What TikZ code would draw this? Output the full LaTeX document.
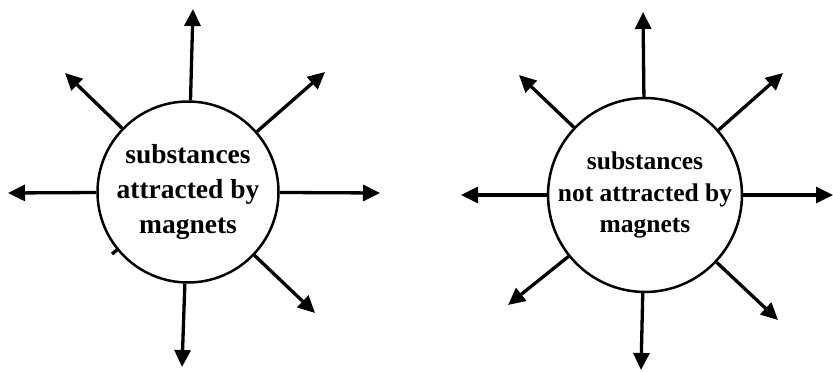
\documentclass[tikz,border=0pt]{standalone}
\usepackage{fontspec}
\setmainfont{Liberation Serif}
\usetikzlibrary{arrows.meta}
\begin{document}
\begin{tikzpicture}[x=1pt,y=-1pt,
  hub/.style={circle,draw,line width=2.5pt,inner sep=0pt,align=center,font=\bfseries},
  ray/.style={line width=3.3pt,-{Triangle[length=17pt,width=16pt]}}]
\useasboundingbox (0,0) rectangle (833,372);
% left diagram
\node[hub,minimum size=181pt,font=\bfseries\fontsize{27.5}{35}\selectfont] (L) at (188,192) {substances\\attracted by\\magnets};
\coordinate (Ln) at (193,9);
\coordinate (Lnw) at (65,73);
\coordinate (Lne) at (325,72);
\coordinate (Lw) at (8,193);
\coordinate (Le) at (380,193);
\coordinate (Lse) at (315,313);
\coordinate (Ls) at (182,367);
\coordinate (Lstub) at (112,254);
\draw[ray] (L) -- (Ln);
\draw[ray] (L) -- (Lnw);
\draw[ray] (L) -- (Lne);
\draw[ray] (L) -- (Lw);
\draw[ray] (L) -- (Le);
\draw[ray] (L) -- (Lse);
\draw[ray] (L) -- (Ls);
\draw[line width=3.3pt] (L) -- (Lstub);
% right diagram
\node[hub,minimum size=183pt,font=\bfseries\fontsize{25.5}{31.5}\selectfont] (R) at (645,195) {substances\\not attracted by\\magnets};
\coordinate (Rn) at (643,12);
\coordinate (Rnw) at (519,75);
\coordinate (Rne) at (783,73);
\coordinate (Rw) at (461,195);
\coordinate (Re) at (833,195);
\coordinate (Rsw) at (508,305);
\coordinate (Rse) at (778,320);
\coordinate (Rs) at (641,370);
\draw[ray] (R) -- (Rn);
\draw[ray] (R) -- (Rnw);
\draw[ray] (R) -- (Rne);
\draw[ray] (R) -- (Rw);
\draw[ray] (R) -- (Re);
\draw[ray] (R) -- (Rsw);
\draw[ray] (R) -- (Rse);
\draw[ray] (R) -- (Rs);
\end{tikzpicture}
\end{document}
